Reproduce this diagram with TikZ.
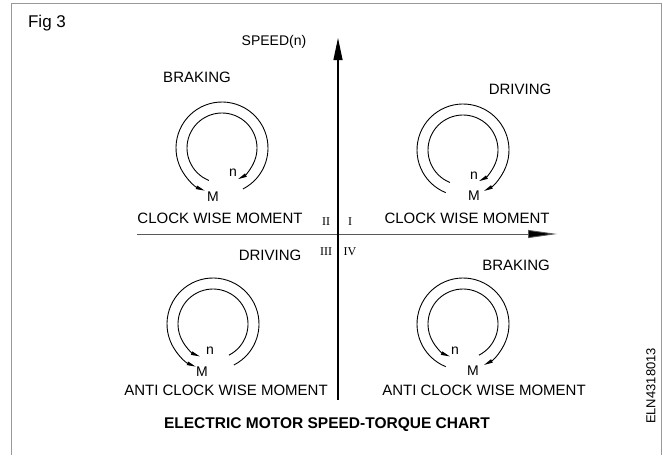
\documentclass[tikz,border=0pt]{standalone}
\usepackage{fontspec}
\setmainfont{Liberation Sans}
\newfontfamily\romanfont{Liberation Serif}
\usetikzlibrary{arrows.meta}
\tikzset{
  lbl/.style={inner sep=0pt, font=\fontsize{15}{18}\selectfont},
  nm/.style={inner sep=0pt, font=\fontsize{14}{16}\selectfont},
  quad/.style={inner sep=0pt, font=\romanfont\fontsize{12}{14}\selectfont},
  ring/.style={line width=0.9pt, -{Triangle[length=9pt,width=3.5pt]}},
  frame/.style={draw=gray!80, line width=0.8pt}
}
\begin{document}
\begin{tikzpicture}[x=1pt,y=1pt]
\useasboundingbox (0,0) rectangle (663,-455);
% frame
\draw[frame] (11,-455) -- (11,-3) -- (661,-3) -- (661,-455);
% axes
\coordinate (vbot) at (338,-400);
\coordinate (vtop) at (338,-38);
\coordinate (hleft) at (137,-234);
\coordinate (hright) at (557,-234);
\draw[gray!70!black, line width=0.9pt, -{Triangle[length=29pt,width=8pt,fill=black]}] (hleft) -- (hright);
\draw[black, line width=1.1pt, -{Triangle[length=22pt,width=9pt]}] (vbot) -- (vtop);
% labels
\node[inner sep=0pt, font=\fontsize{17}{20}\selectfont] (fig) at (47,-23) {Fig 3};
\node[nm] (speed) at (274,-42) {SPEED(n)};
\node[lbl] (brTL) at (197,-77) {BRAKING};
\node[lbl] (drTR) at (520,-89) {DRIVING};
\node[lbl] (cwTL) at (220,-218) {CLOCK WISE MOMENT};
\node[lbl] (cwTR) at (467,-218) {CLOCK WISE MOMENT};
\node[quad] (q2) at (326,-222) {II};
\node[quad] (q1) at (350,-222) {I};
\node[quad] (q3) at (326,-252) {III};
\node[quad] (q4) at (350,-252) {IV};
\node[lbl] (drLL) at (270,-255) {DRIVING};
\node[lbl] (brLR) at (516,-265) {BRAKING};
\node[lbl] (acwLL) at (226,-390) {ANTI CLOCK WISE MOMENT};
\node[lbl] (acwLR) at (484,-390) {ANTI CLOCK WISE MOMENT};
\node[inner sep=0pt, font=\bfseries\fontsize{15.5}{18}\selectfont] (title) at (327,-425) {ELECTRIC MOTOR SPEED-TORQUE CHART};
\node[inner sep=0pt, rotate=90, font=\fontsize{13}{15}\selectfont] (code) at (651,-386) {ELN4318013};
% circle centres
\coordinate (cTL) at (222,-148);
\coordinate (cTR) at (463,-150);
\coordinate (cLL) at (213,-324);
\coordinate (cLR) at (463,-324);
% Quadrant II (top-left): braking
\draw[ring] ([shift={(297:46)}]cTL) arc[start angle=297, end angle=608, radius=46];
\draw[ring] ([shift={(248:35)}]cTL) arc[start angle=248, end angle=-63, radius=35];
\node[nm] (nTL) at (233,-173) {n};
\node[nm] (mTL) at (213,-197) {M};
% Quadrant I (top-right): driving
\draw[ring] ([shift={(248:46)}]cTR) arc[start angle=248, end angle=-63, radius=46];
\draw[ring] ([shift={(248:35)}]cTR) arc[start angle=248, end angle=-63, radius=35];
\node[nm] (nTR) at (474,-176) {n};
\node[nm] (mTR) at (474,-196) {M};
% Quadrant III (bottom-left): driving
\draw[ring] ([shift={(297:46)}]cLL) arc[start angle=297, end angle=608, radius=46];
\draw[ring] ([shift={(297:35)}]cLL) arc[start angle=297, end angle=608, radius=35];
\node[nm] (nLL) at (210,-351) {n};
\node[nm] (mLL) at (202,-372) {M};
% Quadrant IV (bottom-right): braking
\draw[ring] ([shift={(248:46)}]cLR) arc[start angle=248, end angle=-63, radius=46];
\draw[ring] ([shift={(297:35)}]cLR) arc[start angle=297, end angle=608, radius=35];
\node[nm] (nLR) at (455,-351) {n};
\node[nm] (mLR) at (473,-371) {M};
\end{tikzpicture}
\end{document}
